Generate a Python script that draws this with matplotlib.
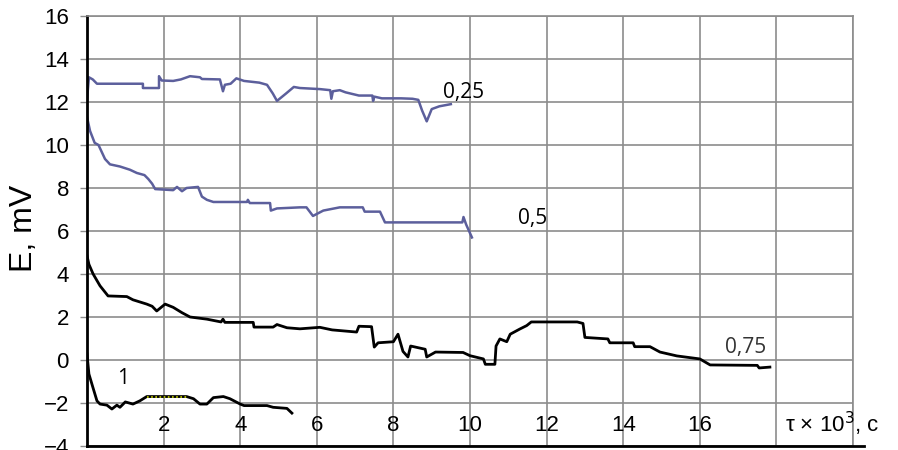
import numpy as np
import matplotlib
matplotlib.use('Agg')
import matplotlib.pyplot as plt

# curve data (tau x 10^3 s, E mV)
x_025 = [0.0, 0.05, 0.15, 0.26, 1.46, 1.46, 1.88, 1.88, 1.95, 2.25, 2.45, 2.69, 2.95, 3.0, 3.47,
         3.55, 3.6, 3.75, 3.9, 4.1, 4.5, 4.7, 4.85, 4.96, 5.2, 5.4, 5.56, 6.08, 6.35, 6.38, 6.42,
         6.6, 6.75, 7.1, 7.45, 7.47, 7.5, 7.7, 8.2, 8.5, 8.65, 8.75, 8.87, 8.95, 9.0, 9.2, 9.5]
y_025 = [12.1, 13.15, 13.05, 12.85, 12.85, 12.65, 12.65, 13.2, 13.0, 12.98, 13.05, 13.2, 13.15, 13.07, 13.05,
         12.5, 12.8, 12.85, 13.1, 12.98, 12.9, 12.8, 12.4, 12.05, 12.4, 12.7, 12.65, 12.6, 12.55, 12.15, 12.5,
         12.55, 12.45, 12.3, 12.3, 12.05, 12.25, 12.17, 12.17, 12.15, 12.1, 11.6, 11.1, 11.45, 11.67, 11.8, 11.9]

x_05 = [0.0, 0.08, 0.2, 0.3, 0.47, 0.6, 0.86, 1.12, 1.3, 1.5, 1.6, 1.7, 1.78, 2.25, 2.35, 2.48, 2.6,
        2.9, 3.0, 3.13, 3.3, 4.18, 4.2, 4.25, 4.78, 4.8, 4.96, 5.56, 5.73, 5.9, 6.17, 6.6, 7.2, 7.25,
        7.65, 7.78, 9.8, 9.83, 9.9, 10.0, 10.05]
y_05 = [11.3, 10.65, 10.1, 10.0, 9.35, 9.1, 9.0, 8.85, 8.7, 8.6, 8.42, 8.2, 7.95, 7.9, 8.05, 7.85, 8.0,
        8.05, 7.6, 7.45, 7.35, 7.35, 7.45, 7.3, 7.3, 6.95, 7.05, 7.1, 7.1, 6.7, 6.95, 7.1, 7.1, 6.9,
        6.9, 6.4, 6.4, 6.65, 6.3, 5.9, 5.7]

x_075 = [0.0, 0.05, 0.16, 0.34, 0.55, 1.04, 1.2, 1.56, 1.7, 1.82, 2.04, 2.25, 2.48, 2.69, 3.13, 3.5,
         3.55, 3.6, 4.34, 4.36, 4.86, 4.96, 5.22, 5.56, 6.08, 6.4, 7.04, 7.1, 7.43, 7.5, 7.6, 8.0,
         8.12, 8.25, 8.38, 8.45, 8.83, 8.87, 9.03, 9.1, 9.82, 10.0, 10.35, 10.4, 10.65, 10.68, 10.78,
         10.96, 11.05, 11.3, 11.48, 11.6, 12.8, 12.95, 13.0, 13.6, 13.65, 14.26, 14.3, 14.7, 14.96,
         15.4, 16.0, 16.27, 17.5, 17.55, 17.83]
y_075 = [4.85, 4.45, 4.0, 3.45, 2.98, 2.95, 2.8, 2.6, 2.5, 2.28, 2.6, 2.45, 2.2, 2.0, 1.9, 1.77,
         1.9, 1.75, 1.75, 1.53, 1.53, 1.65, 1.5, 1.45, 1.52, 1.4, 1.3, 1.57, 1.55, 0.6, 0.8, 0.85,
         1.2, 0.4, 0.14, 0.65, 0.5, 0.14, 0.3, 0.37, 0.35, 0.2, 0.05, -0.2, -0.2, 0.65, 0.98,
         0.85, 1.2, 1.44, 1.6, 1.77, 1.77, 1.7, 1.05, 0.98, 0.8, 0.8, 0.62, 0.62, 0.37,
         0.19, 0.05, -0.23, -0.25, -0.37, -0.33]

x_1 = [0.0, 0.05, 0.15, 0.26, 0.34, 0.52, 0.65, 0.78, 0.86, 1.0, 1.2, 1.38, 1.56, 2.6, 2.78, 2.95,
       3.13, 3.3, 3.56, 3.73, 4.0, 4.1, 4.7, 4.86, 5.22, 5.35]
y_1 = [0.28, -0.65, -1.25, -1.9, -2.05, -2.1, -2.28, -2.1, -2.2, -1.95, -2.05, -1.9, -1.7, -1.7, -1.8, -2.05,
       -2.05, -1.75, -1.7, -1.8, -2.05, -2.12, -2.12, -2.2, -2.25, -2.47]

x_ticks = [0, 2, 4, 6, 8, 10, 12, 14, 16, 18, 20]
x_tick_labels = ['', '2', '4', '6', '8', '10', '12', '14', '16', '', '']
y_ticks = [-4, -2, 0, 2, 4, 6, 8, 10, 12, 14, 16]

curve_labels = ['0,25', '0,5', '0,75', '1']
label_x = [9.3, 11.25, 16.66, 0.78]
label_y = [12.42, 6.56, 0.6, -0.88]

plt.rcParams['font.family'] = ['Liberation Sans', 'DejaVu Sans']

fig = plt.figure(figsize=(8.98, 4.5), dpi=100)
ax = fig.add_axes([87 / 898, 4 / 450, 766 / 898, 430 / 450])

blue = '#5c5f9c'
ax.plot(x_025, y_025, color=blue, lw=1.8)
ax.plot(x_05, y_05, color=blue, lw=1.8)
ax.plot(x_075, y_075, color='black', lw=2.0)
ax.plot(x_1, y_1, color='black', lw=2.0)
# yellow dotted overlay on the flat part of curve 1
ax.plot(x_1[12:14], y_1[12:14], color='#c8d400', lw=1.2, linestyle=(0, (1, 1.5)))

for t, lx, ly in zip(curve_labels, label_x, label_y):
    c = '#333333' if t == '0,75' else 'black'
    ax.text(lx, ly, t, fontsize=15, va='center', ha='left', color=c, family=['Open Sans', 'DejaVu Sans'])

ax.set_xlim(0, 20)
ax.set_ylim(-4, 16)
ax.set_xticks(x_ticks)
ax.set_xticklabels(x_tick_labels)
ax.set_yticks(y_ticks)
ax.grid(True, color='#8c8c8c', lw=1.2)
ax.set_axisbelow(True)

ax.tick_params(axis='x', length=0, pad=-22, labelsize=16)
ax.tick_params(axis='y', length=5, color='#8c8c8c', width=1, pad=8, labelsize=16)

for s in ['top', 'right']:
    ax.spines[s].set_color('#8c8c8c')
    ax.spines[s].set_linewidth(1.2)
ax.spines['left'].set_color('black')
ax.spines['left'].set_linewidth(2)
ax.spines['bottom'].set_color('black')
ax.spines['bottom'].set_linewidth(2)
ax.spines['bottom'].set_bounds(0, 20.3)

fig.text(24 / 898, 1 - 228 / 450, 'E, mV', rotation=90, fontsize=23, ha='center', va='center')
fig.text(785 / 898, 1 - 424 / 450, 'τ × 10$^3$, c', fontsize=16, ha='left', va='center')

fig.savefig('out.png', dpi=100)
